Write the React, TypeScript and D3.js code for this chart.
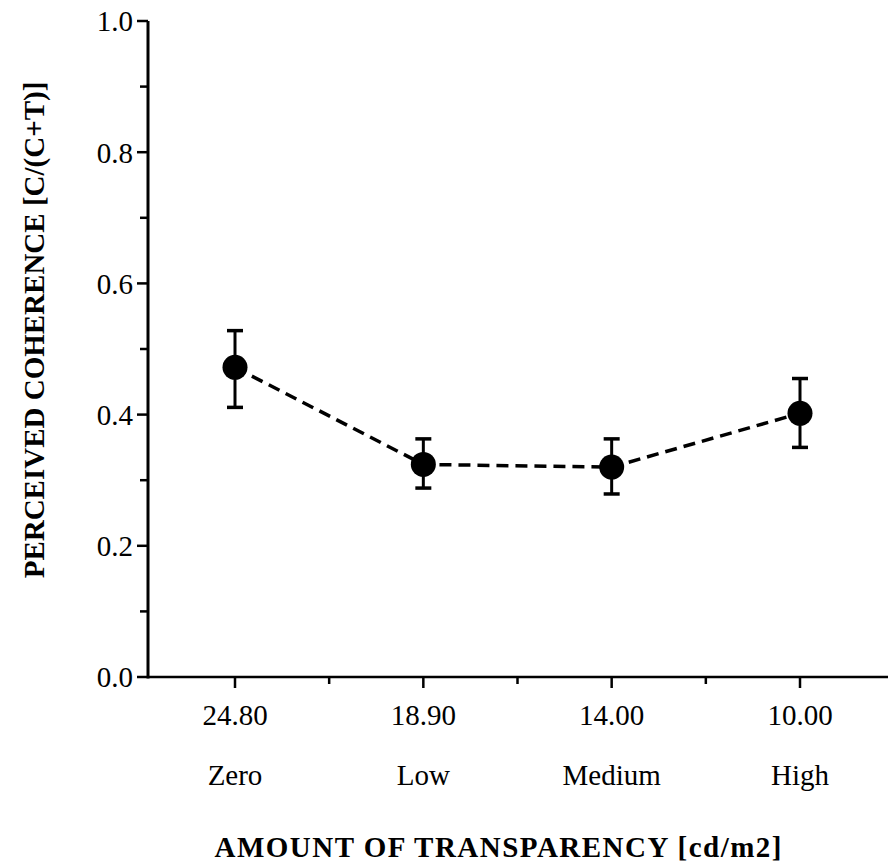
import React from "react";
import * as d3 from "d3";

const categories = ["Zero", "Low", "Medium", "High"];
const luminance = ["24.80", "18.90", "14.00", "10.00"];
const means = [0.472, 0.324, 0.32, 0.402];
const upper = [0.528, 0.363, 0.363, 0.455];
const lower = [0.411, 0.288, 0.279, 0.35];
const yMajorTicks = [0, 0.2, 0.4, 0.6, 0.8, 1.0];
const yMinorTicks = [0.1, 0.3, 0.5, 0.7, 0.9];
const xMinorTicks = [0.5, 1.5, 2.5];

const W = 888;
const H = 862;
const FONT = "'Liberation Serif', 'Times New Roman', Times, serif";

export default function App() {
  const x = d3.scaleLinear().domain([0, 3]).range([235, 800]);
  const y = d3.scaleLinear().domain([0, 1]).range([677, 21]);
  const axisX = 148;
  const axisY = y(0);

  const line = d3
    .line<number>()
    .x((_, i) => x(i))
    .y((d) => y(d));

  return (
    <svg
      width={W}
      height={H}
      style={{ position: "absolute", left: 0, top: 0, background: "#fff" }}
      fontFamily={FONT}
    >
      {/* Y axis */}
      <line x1={axisX} x2={axisX} y1={y(1)} y2={axisY + 1.5} stroke="#000" strokeWidth={3} />
      {yMajorTicks.map((t) => (
        <g key={"ym" + t}>
          <line x1={axisX - 11} x2={axisX} y1={y(t)} y2={y(t)} stroke="#000" strokeWidth={2.5} />
          <text
            x={133}
            y={y(t)}
            dy="0.36em"
            textAnchor="end"
            fontSize={29}
            fill="#000"
          >
            {t.toFixed(1)}
          </text>
        </g>
      ))}
      {yMinorTicks.map((t) => (
        <line key={"yn" + t} x1={axisX - 8} x2={axisX} y1={y(t)} y2={y(t)} stroke="#000" strokeWidth={2.5} />
      ))}

      {/* X axis */}
      <line x1={axisX} x2={W} y1={axisY} y2={axisY} stroke="#000" strokeWidth={2.5} />
      {categories.map((c, i) => (
        <g key={"xm" + c}>
          <line x1={x(i)} x2={x(i)} y1={axisY} y2={axisY + 11} stroke="#000" strokeWidth={2.5} />
          <text x={x(i)} y={725} textAnchor="middle" fontSize={29} fill="#000">
            {luminance[i]}
          </text>
          <text x={x(i)} y={785} textAnchor="middle" fontSize={29} fill="#000">
            {c}
          </text>
        </g>
      ))}
      {xMinorTicks.map((t) => (
        <line key={"xn" + t} x1={x(t)} x2={x(t)} y1={axisY} y2={axisY + 7} stroke="#000" strokeWidth={2.5} />
      ))}

      {/* Axis titles */}
      <text
        x={498}
        y={857}
        textAnchor="middle"
        fontSize={29}
        fontWeight="bold"
        fill="#000"
        textLength={567}
        lengthAdjust="spacing"
      >
        AMOUNT OF TRANSPARENCY [cd/m2]
      </text>
      <text
        transform={`translate(44, 330) rotate(-90)`}
        textAnchor="middle"
        fontSize={29}
        fontWeight="bold"
        fill="#000"
      >
        PERCEIVED COHERENCE [C/(C+T)]
      </text>

      {/* Dashed line */}
      <path
        d={line(means) || ""}
        fill="none"
        stroke="#000"
        strokeWidth={3.5}
        strokeDasharray="12,7"
      />

      {/* Error bars */}
      {means.map((m, i) => (
        <g key={"eb" + i}>
          <line x1={x(i)} x2={x(i)} y1={y(upper[i])} y2={y(lower[i])} stroke="#000" strokeWidth={3} />
          <line x1={x(i) - 8} x2={x(i) + 8} y1={y(upper[i])} y2={y(upper[i])} stroke="#000" strokeWidth={3.5} />
          <line x1={x(i) - 8} x2={x(i) + 8} y1={y(lower[i])} y2={y(lower[i])} stroke="#000" strokeWidth={3.5} />
          <circle cx={x(i)} cy={y(m)} r={12.5} fill="#000" />
        </g>
      ))}
    </svg>
  );
}
